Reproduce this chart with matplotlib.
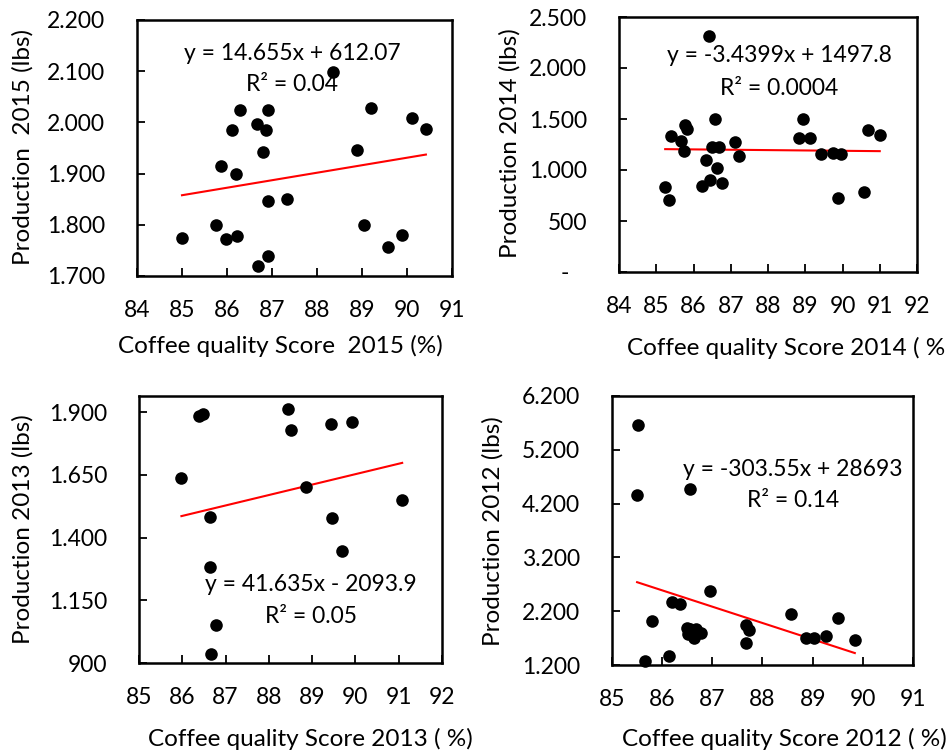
import matplotlib
matplotlib.use("Agg")
import matplotlib.pyplot as plt
from matplotlib.ticker import FuncFormatter, FixedLocator
import numpy as np

plt.rcParams["font.family"] = ["Lato", "DejaVu Sans"]

# ---- data -------------------------------------------------------------
score_2015 = [85.00, 85.75, 85.97, 86.22, 85.86, 86.12, 86.21, 86.29, 86.66, 86.87,
              86.79, 86.91, 86.91, 86.90, 86.68, 87.33, 88.36, 88.88, 89.20, 89.05,
              89.57, 89.88, 90.11, 90.42]
prod_2015 = [1774, 1800, 1772, 1778, 1915, 1985, 1899, 2025, 1996, 1985,
             1943, 2025, 1847, 1740, 1719, 1850, 2098, 1947, 2029, 1800,
             1757, 1780, 2009, 1987]

score_2014 = [85.24, 85.34, 85.40, 85.67, 85.74, 85.77, 85.83, 86.23, 86.34, 86.42,
              86.43, 86.50, 86.58, 86.63, 86.68, 86.77, 87.12, 87.22, 88.82, 88.95,
              89.12, 89.43, 89.74, 89.89, 89.96, 90.57, 90.68, 91.00]
prod_2014 = [833, 709, 1330, 1281, 1183, 1438, 1405, 846, 1101, 2314,
             899, 1225, 1497, 1023, 1225, 873, 1278, 1140, 1314, 1497,
             1310, 1154, 1170, 725, 1160, 781, 1395, 1346]

score_2013 = [85.98, 86.38, 86.48, 86.63, 86.63, 86.79, 86.67, 88.45, 88.50, 88.86,
              89.43, 89.46, 89.69, 89.93, 91.08]
prod_2013 = [1636, 1885, 1893, 1484, 1281, 1051, 936, 1912, 1830, 1603,
             1855, 1480, 1347, 1862, 1551]

score_2012 = [85.52, 85.50, 85.66, 85.80, 86.13, 86.20, 86.36, 86.56, 86.95, 86.55,
              86.52, 86.63, 86.68, 86.77, 86.49, 87.67, 87.74, 87.67, 88.56, 88.86,
              89.03, 89.27, 89.51, 89.84]
prod_2012 = [5655, 4368, 1274, 2017, 1373, 2376, 2326, 4467, 2568, 1863,
             1770, 1707, 1863, 1788, 1887, 1943, 1850, 1615, 2153, 1707,
             1701, 1732, 2066, 1658]

# fitted linear trends: slope, intercept, R²
slopes = [14.655, -3.4399, 41.635, -303.55]
intercepts = [612.07, 1497.8, -2093.9, 28693]
eq_labels = ["y = 14.655x + 612.07", "y = -3.4399x + 1497.8",
             "y = 41.635x - 2093.9", "y = -303.55x + 28693"]
r2_labels = ["R\u00b2 = 0.04", "R\u00b2 = 0.0004", "R\u00b2 = 0.05", "R\u00b2 = 0.14"]

x_labels = ["Coffee quality Score  2015 (%)", "Coffee quality Score 2014 ( %)",
            "Coffee quality Score 2013 ( %)", "Coffee quality Score 2012 ( %)"]
y_labels = ["Production  2015 (lbs)", "Production 2014 (lbs)",
            "Production 2013 (lbs)", "Production 2012 (lbs)"]

x_ticks = [list(range(84, 92)), list(range(84, 93)), list(range(85, 93)), list(range(85, 92))]
y_ticks = [list(range(1700, 2201, 100)), list(range(0, 2501, 500)),
           list(range(900, 1901, 250)), list(range(1200, 6201, 1000))]
y_lims = [(1700, 2200), (0, 2500), (900, 1965), (1200, 6200)]

scores = [score_2015, score_2014, score_2013, score_2012]
prods = [prod_2015, prod_2014, prod_2013, prod_2012]

# ---- layout (pixel boxes: left, top, right, bottom) --------------------
W, H = 946, 753
boxes = [(137, 20, 452, 276), (619, 17, 917, 272),
         (139, 396, 442, 663), (612, 396, 913, 665)]
eq_pos = [(292, 60), (779, 62), (311, 591), (793, 476)]
r2_pos = [(292, 91), (779, 95), (311, 623), (793, 507)]
xlab_pos = [(118, 353), (627, 355), (148, 746), (622, 746)]
ylab_pos = [(23, 147), (510, 143), (23, 529), (493, 531)]

FS = 16.5
FS_LAB = 17.5


def thousands(v, _pos=None):
    if v == 0:
        return "-   "
    return f"{v:,.0f}".replace(",", ".")


fig = plt.figure(figsize=(W / 100, H / 100), dpi=100)

for i in range(4):
    l, t, r, b = boxes[i]
    ax = fig.add_axes([l / W, 1 - b / H, (r - l) / W, (b - t) / H])

    def to_ax(px, py, l=l, t=t, r=r, b=b):
        return (px - l) / (r - l), (b - py) / (b - t)

    x = np.array(scores[i])
    y = np.array(prods[i])
    ax.scatter(x, y, s=82, color="black", zorder=3, linewidths=0, clip_on=False)

    xs = np.array([x.min(), x.max()])
    ax.plot(xs, slopes[i] * xs + intercepts[i], color="#ff0000", lw=1.5, zorder=2)

    ax.set_xlim(x_ticks[i][0], x_ticks[i][-1])
    ax.set_ylim(*y_lims[i])
    ax.xaxis.set_major_locator(FixedLocator(x_ticks[i]))
    ax.yaxis.set_major_locator(FixedLocator(y_ticks[i]))
    ax.yaxis.set_major_formatter(FuncFormatter(thousands))

    for sp in ax.spines.values():
        sp.set_linewidth(1.8)
        sp.set_color("black")
    ax.tick_params(axis="both", direction="in", length=5.5, width=1.3,
                   labelsize=FS, colors="black")
    ax.tick_params(axis="y", pad=23)
    ax.tick_params(axis="x", pad=17)

    ex, ey = to_ax(*eq_pos[i])
    ax.text(ex, ey, eq_labels[i], transform=ax.transAxes, ha="center",
            va="baseline", fontsize=FS, color="black")
    rx, ry = to_ax(*r2_pos[i])
    ax.text(rx, ry, r2_labels[i], transform=ax.transAxes, ha="center",
            va="baseline", fontsize=FS, color="black")

    ax.set_xlabel(x_labels[i], fontsize=FS_LAB, ha="left", va="baseline")
    ax.xaxis.set_label_coords(*to_ax(*xlab_pos[i]))
    ax.set_ylabel(y_labels[i], fontsize=FS_LAB, ha="center", va="center")
    ax.yaxis.set_label_coords(*to_ax(*ylab_pos[i]))

fig.savefig("out.png", dpi=100)
